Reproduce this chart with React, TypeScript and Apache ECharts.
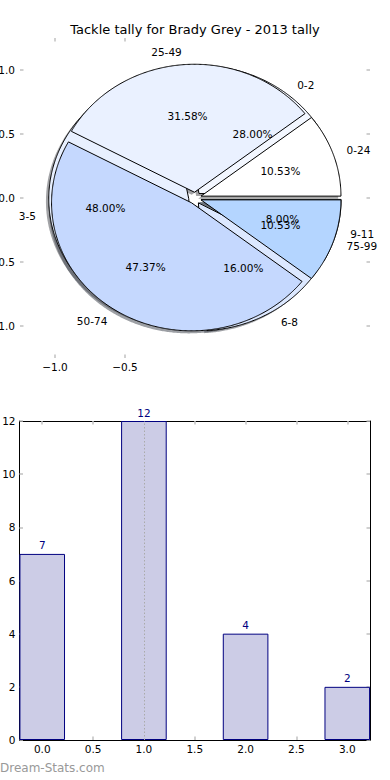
import React, { useEffect, useRef } from 'react';
import * as echarts from 'echarts';

const titleText = 'Tackle tally for Brady Grey - 2013 tally';
const watermarkText = 'Dream-Stats.com';
const outerLabels = ['0-24', '25-49', '50-74', '75-99'];
const outerValues = [2, 6, 9, 2];
const innerLabels = ['0-2', '3-5', '6-8', '9-11'];
const innerValues = [7, 12, 4, 2];
const barPositions = [0, 1, 2, 3];
const barValues = [7, 12, 4, 2];
const pieXTicks = [-1, -0.5];
const pieYTicks = [-1, -0.5, 0, 0.5, 1];
const barXTicks = [0, 0.5, 1, 1.5, 2, 2.5, 3];
const markerX = 1;

const outerColors = ['#ffffff', '#eaf1ff', '#c5d8fe', '#b4d5ff'];
const innerColors = ['#f3f7ff', '#e8f0ff', '#dce8ff', '#b4d5ff'];
const FONT = 'DejaVu Sans';
const EXPLODE = 0.045;
const SHADOW = -0.02;
const TICK_COLOR = '#c0c0c0';

function wedgeGeom(values: number[], i: number) {
  const total = values.reduce((a, b) => a + b, 0);
  let start = 0;
  for (let k = 0; k < i; k++) start += values[k];
  const t1 = (360 * start) / total;
  const t2 = (360 * (start + values[i])) / total;
  const mid = (((t1 + t2) / 2) * Math.PI) / 180;
  return {
    t1,
    t2,
    mid,
    ox: EXPLODE * Math.cos(mid),
    oy: EXPLODE * Math.sin(mid),
    pct: (values[i] / total) * 100,
  };
}

function wedgePoints(api: any, g: any, dx: number, dy: number) {
  const pts: number[][] = [api.coord([g.ox + dx, g.oy + dy])];
  const n = Math.max(2, Math.ceil((g.t2 - g.t1) / 0.5));
  for (let s = 0; s <= n; s++) {
    const a = ((g.t1 + ((g.t2 - g.t1) * s) / n) * Math.PI) / 180;
    pts.push(api.coord([g.ox + dx + Math.cos(a), g.oy + dy + Math.sin(a)]));
  }
  return pts;
}

function shadowColor(hex: string) {
  const r = parseInt(hex.slice(1, 3), 16);
  const g = parseInt(hex.slice(3, 5), 16);
  const b = parseInt(hex.slice(5, 7), 16);
  return `rgba(${Math.round(r * 0.3)},${Math.round(g * 0.3)},${Math.round(b * 0.3)},0.5)`;
}

function makePieSeries(labels: string[], values: number[], colors: string[], layer: string, z: number) {
  return {
    type: 'custom',
    coordinateSystem: 'cartesian2d',
    xAxisIndex: 0,
    yAxisIndex: 0,
    z,
    silent: true,
    clip: false,
    data: values.map((v) => [0, 0, v]),
    renderItem: (params: any, api: any) => {
      const i = params.dataIndex;
      const g = wedgeGeom(values, i);
      if (layer === 'shadow') {
        return {
          type: 'polygon',
          shape: { points: wedgePoints(api, g, SHADOW, SHADOW) },
          style: { fill: shadowColor(colors[i]) },
        };
      }
      if (layer === 'wedge') {
        return {
          type: 'polygon',
          shape: { points: wedgePoints(api, g, 0, 0) },
          style: { fill: colors[i], stroke: '#000', lineWidth: 1 },
        };
      }
      const lx = g.ox + 1.1 * Math.cos(g.mid);
      const ly = g.oy + 1.1 * Math.sin(g.mid);
      const [px, py] = api.coord([lx, ly]);
      const [qx, qy] = api.coord([g.ox + 0.6 * Math.cos(g.mid), g.oy + 0.6 * Math.sin(g.mid)]);
      return {
        type: 'group',
        children: [
          {
            type: 'text',
            x: px,
            y: py,
            style: {
              text: labels[i],
              fill: '#000',
              fontSize: 10.5,
              fontFamily: FONT,
              align: lx > 0 ? 'left' : 'right',
              verticalAlign: 'middle',
            },
          },
          {
            type: 'text',
            x: qx,
            y: qy,
            style: {
              text: g.pct.toFixed(2) + '%',
              fill: '#000',
              fontSize: 10.5,
              fontFamily: FONT,
              align: 'center',
              verticalAlign: 'middle',
            },
          },
        ],
      };
    },
  };
}

const fmtSigned = (v: number) => (v < 0 ? '\u2212' : '') + Math.abs(v).toFixed(1);

const tickStyle = { show: true, inside: true, length: 3.5, lineStyle: { color: TICK_COLOR, width: 1.5 } };
const labelStyle = { color: '#000', fontSize: 10.5, fontFamily: FONT };
const hiddenLine = { show: false, onZero: false };
const blackLine = { show: true, onZero: false, lineStyle: { color: '#000', width: 1 } };

export default function App() {
  const ref = useRef<HTMLDivElement>(null);
  useEffect(() => {
    if (!ref.current) return;
    const chart = echarts.init(ref.current, null, { renderer: 'svg' });
    const option: any = {
      animation: false,
      backgroundColor: '#fff',
      title: {
        text: titleText,
        left: 'center',
        top: 23,
        padding: 0,
        textStyle: { fontSize: 13, fontWeight: 'normal', color: '#000', fontFamily: FONT },
      },
      graphic: [
        {
          type: 'text',
          left: 0,
          top: 762,
          style: { text: watermarkText, fill: '#999', fontSize: 12, fontFamily: FONT },
        },
      ],
      grid: [
        { left: 20, top: 38, width: 350, height: 320, containLabel: false, outerBoundsMode: 'none' },
        { left: 19.5, top: 421, width: 350.5, height: 319, containLabel: false, outerBoundsMode: 'none' },
      ],
      xAxis: [
        {
          gridIndex: 0,
          type: 'value',
          min: -1.25,
          max: 1.25,
          position: 'bottom',
          axisLine: hiddenLine,
          splitLine: { show: false },
          axisTick: { ...tickStyle, customValues: pieXTicks },
          axisLabel: { ...labelStyle, margin: 3, customValues: pieXTicks, formatter: fmtSigned },
        },
        {
          gridIndex: 0,
          type: 'value',
          min: -1.25,
          max: 1.25,
          position: 'top',
          axisLine: hiddenLine,
          splitLine: { show: false },
          axisTick: { ...tickStyle, customValues: pieXTicks },
          axisLabel: { show: false },
        },
        {
          gridIndex: 1,
          type: 'value',
          min: -0.2235,
          max: 3.2235,
          position: 'bottom',
          axisLine: blackLine,
          splitLine: { show: false },
          axisTick: { ...tickStyle, customValues: barXTicks },
          axisLabel: { ...labelStyle, margin: 3, customValues: barXTicks, formatter: (v: number) => v.toFixed(1) },
        },
        {
          gridIndex: 1,
          type: 'value',
          min: -0.2235,
          max: 3.2235,
          position: 'top',
          axisLine: blackLine,
          splitLine: { show: false },
          axisTick: { ...tickStyle, customValues: barXTicks },
          axisLabel: { show: false },
        },
      ],
      yAxis: [
        {
          gridIndex: 0,
          type: 'value',
          min: -1.25,
          max: 1.25,
          position: 'left',
          axisLine: hiddenLine,
          splitLine: { show: false },
          axisTick: { ...tickStyle, customValues: pieYTicks },
          axisLabel: { ...labelStyle, margin: 5, customValues: pieYTicks, formatter: fmtSigned },
        },
        {
          gridIndex: 0,
          type: 'value',
          min: -1.25,
          max: 1.25,
          position: 'right',
          axisLine: hiddenLine,
          splitLine: { show: false },
          axisTick: { ...tickStyle, customValues: pieYTicks },
          axisLabel: { show: false },
        },
        {
          gridIndex: 1,
          type: 'value',
          min: 0,
          max: 12,
          interval: 2,
          position: 'left',
          axisLine: blackLine,
          splitLine: { show: false },
          axisTick: { ...tickStyle },
          axisLabel: { ...labelStyle, margin: 4 },
        },
        {
          gridIndex: 1,
          type: 'value',
          min: 0,
          max: 12,
          interval: 2,
          position: 'right',
          axisLine: blackLine,
          splitLine: { show: false },
          axisTick: { ...tickStyle },
          axisLabel: { show: false },
        },
      ],
      series: [
        makePieSeries(innerLabels, innerValues, innerColors, 'shadow', 1),
        makePieSeries(outerLabels, outerValues, outerColors, 'shadow', 1),
        makePieSeries(innerLabels, innerValues, innerColors, 'wedge', 2),
        makePieSeries(outerLabels, outerValues, outerColors, 'wedge', 3),
        makePieSeries(innerLabels, innerValues, innerColors, 'text', 4),
        makePieSeries(outerLabels, outerValues, outerColors, 'text', 4),
        {
          type: 'bar',
          xAxisIndex: 2,
          yAxisIndex: 2,
          barWidth: 45.6,
          data: barPositions.map((x, i) => [x, barValues[i]]),
          itemStyle: { color: '#ccccE6', borderColor: '#000080', borderWidth: 1 },
          label: {
            show: true,
            position: 'top',
            distance: 3,
            color: '#000080',
            fontSize: 10.5,
            fontFamily: FONT,
            formatter: (p: any) => String(p.value[1]),
          },
          markLine: {
            silent: true,
            symbol: 'none',
            z: 5,
            label: { show: false },
            lineStyle: { type: [1.5, 2], color: '#aaaaaa', width: 1 },
            data: [{ xAxis: markerX }],
          },
        },
      ],
    };
    chart.setOption(option);
    return () => chart.dispose();
  }, []);
  return (
    <div
      ref={ref}
      style={{ position: 'fixed', left: 0, top: 0, width: 390, height: 780, background: '#fff' }}
    />
  );
}
